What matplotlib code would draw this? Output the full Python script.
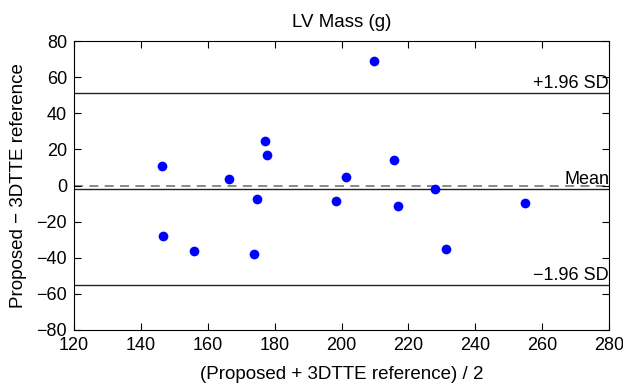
import matplotlib
matplotlib.use("Agg")
import matplotlib.pyplot as plt

# --- Data ---
mean_vals = [146.3, 146.7, 156.0, 166.4, 173.9, 174.7, 177.0, 177.6,
             198.4, 201.3, 209.6, 215.8, 217.0, 227.9, 231.2, 254.8]
diff_vals = [10.8, -28.1, -36.1, 3.4, -37.8, -7.5, 24.5, 16.9,
             -8.8, 4.9, 68.8, 14.1, -11.2, -1.8, -35.3, -9.9]
bias = -1.9
upper_loa = 51.0
lower_loa = -55.1
x_ticks = [120, 140, 160, 180, 200, 220, 240, 260, 280]
y_ticks = [-80, -60, -40, -20, 0, 20, 40, 60, 80]

plt.rcParams['font.family'] = ['Liberation Sans', 'DejaVu Sans']

fig = plt.figure(figsize=(6.23, 3.83), dpi=100)
ax = fig.add_axes([74 / 623, 1 - 330 / 383, 535 / 623, 289 / 383])

# zero line + bias + limits of agreement
ax.axhline(0, color='#808080', linestyle=(0, (5, 3.5)), linewidth=1.3, zorder=1)
ax.axhline(bias, color='#222222', linewidth=1.0, zorder=1)
ax.axhline(upper_loa, color='#222222', linewidth=1.0, zorder=1)
ax.axhline(lower_loa, color='#222222', linewidth=1.0, zorder=1)

ax.plot(mean_vals, diff_vals, 'o', color='#0000ff', markersize=7,
        markeredgewidth=0, zorder=3)

ax.text(280, upper_loa + 0.5, '+1.96 SD', ha='right', va='bottom', fontsize=13)
ax.text(280, bias + 0.5, 'Mean', ha='right', va='bottom', fontsize=13)
ax.text(280, lower_loa + 0.5, '\u22121.96 SD', ha='right', va='bottom', fontsize=13)

ax.set_xlim(120, 280)
ax.set_ylim(-80, 80)
ax.set_xticks(x_ticks)
ax.set_yticks(y_ticks)
ax.set_yticklabels([str(v).replace('-', '\u2212') for v in y_ticks])
ax.tick_params(direction='in', top=True, right=True, length=5, width=0.8,
               labelsize=13)
ax.tick_params(axis='x', pad=5)
ax.tick_params(axis='y', pad=5)
for s in ax.spines.values():
    s.set_linewidth(0.8)

ax.set_title('LV Mass (g)', fontsize=13.5, pad=10)
ax.set_xlabel('(Proposed + 3DTTE reference) / 2', fontsize=13.5, labelpad=9)
ax.set_ylabel('Proposed \u2212 3DTTE reference', fontsize=13.5, labelpad=7)

fig.savefig('out.png', dpi=100)
